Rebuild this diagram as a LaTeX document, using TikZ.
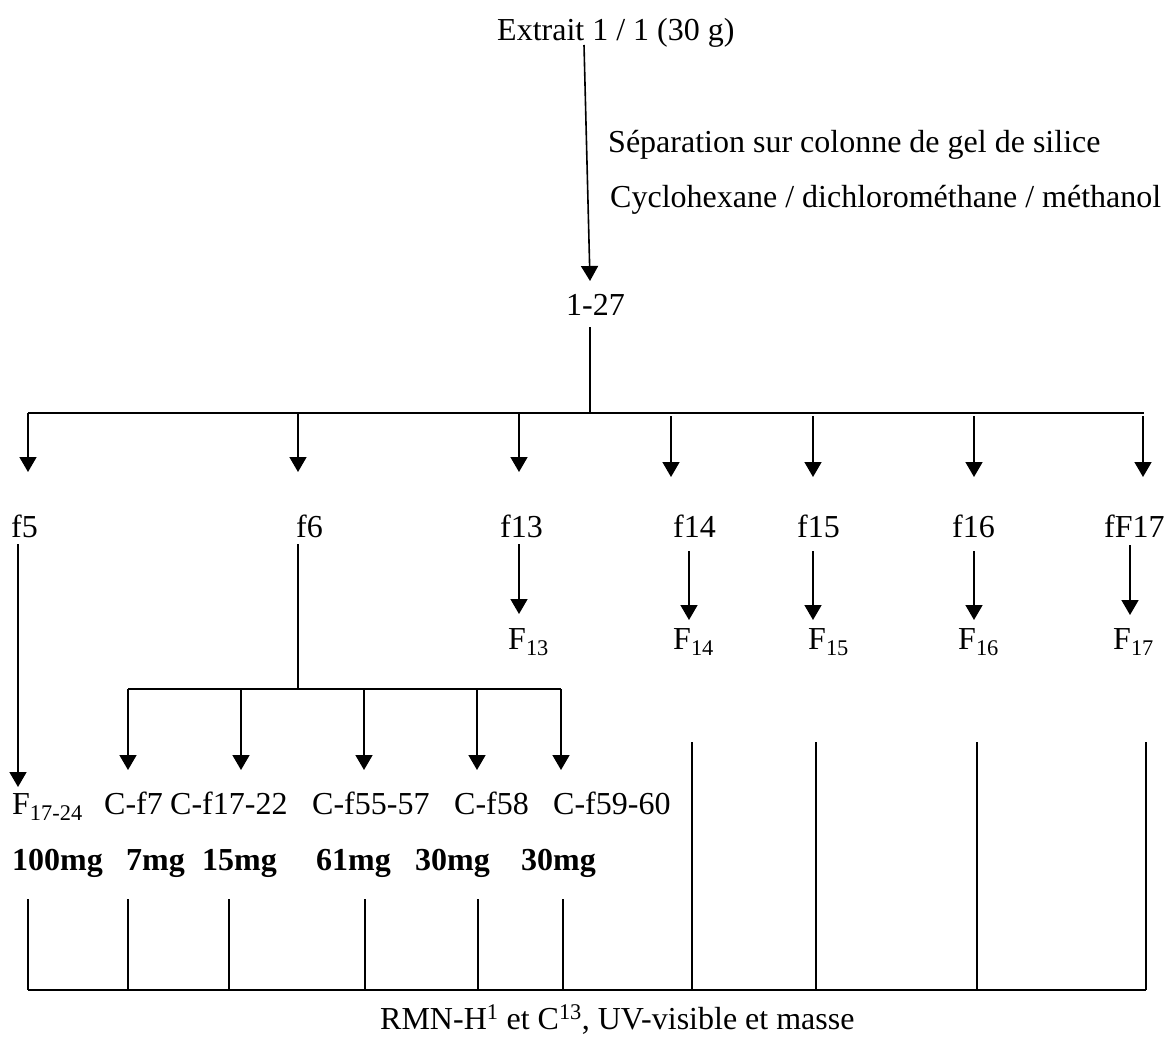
\documentclass[tikz,border=0pt]{standalone}
\usepackage{fontspec}
\setmainfont{Liberation Serif}
\usetikzlibrary{arrows.meta}
\begin{document}
\begin{tikzpicture}[x=1pt,y=-1pt,
  lbl/.style={anchor=base west,inner sep=0pt,font=\fontsize{32}{38}\selectfont},
  blbl/.style={lbl,font=\fontsize{32}{38}\selectfont\bfseries},
  ln/.style={line width=1.6pt},
  thinln/.style={line width=1.2pt},
  arr/.style={-{Triangle[width=17pt,length=15pt]}},
]
\useasboundingbox[fill=white] (0,0) rectangle (1166,1038);

% texts
\node[lbl] (extrait) at (497,41) {Extrait 1 / 1 (30 g)};
\node[lbl] (sep) at (608,152) {Séparation sur colonne de gel de silice};
\node[lbl] (cyc) at (610,207) {Cyclohexane / dichlorométhane / méthanol};
\node[lbl] (n127) at (566,315) {1-27};

\node[lbl] (f5) at (11,537) {f5};
\node[lbl] (f6) at (296,537) {f6};
\node[lbl] (f13) at (500,537) {f13};
\node[lbl] (f14) at (673,537) {f14};
\node[lbl] (f15) at (797,537) {f15};
\node[lbl] (f16) at (952,537) {f16};
\node[lbl] (fF17) at (1104,537) {fF17};

\node[lbl] (F13) at (508,649) {F\textsubscript{13}};
\node[lbl] (F14) at (673,649) {F\textsubscript{14}};
\node[lbl] (F15) at (808,649) {F\textsubscript{15}};
\node[lbl] (F16) at (958,649) {F\textsubscript{16}};
\node[lbl] (F17) at (1113,649) {F\textsubscript{17}};

\node[lbl] (F1724) at (12,814) {F\textsubscript{17-24}};
\node[lbl] (Cf7) at (104,814) {C-f7};
\node[lbl] (Cf1722) at (170,814) {C-f17-22};
\node[lbl] (Cf5557) at (312,814) {C-f55-57};
\node[lbl] (Cf58) at (454,814) {C-f58};
\node[lbl] (Cf5960) at (553,814) {C-f59-60};

\node[blbl] (m100) at (12,870) {100mg};
\node[blbl] (m7) at (126,870) {7mg};
\node[blbl] (m15) at (202,870) {15mg};
\node[blbl] (m61) at (316,870) {61mg};
\node[blbl] (m30a) at (415,870) {30mg};
\node[blbl] (m30b) at (521,870) {30mg};

\node[lbl] (rmn) at (380,1029) {RMN-H\textsuperscript{1} et C\textsuperscript{13}, UV-visible et masse};

% coordinates
\coordinate (e0) at (584,45);
\coordinate (e1) at (590,281);
\coordinate (r0) at (590,327);
\coordinate (r1) at (590,413);
\coordinate (barL) at (28,413);
\coordinate (barR) at (1144,413);

% top arrow
\draw[ln,arr] (e0) -- (e1);
\draw[ln] (r0) -- (r1);
\draw[ln] (barL) -- (barR);

% arrows from first bar
\foreach \x in {28,298,519} \draw[ln,arr] (\x,413) -- (\x,472);
\foreach \x in {671,813,974,1143} \draw[ln,arr] (\x,416) -- (\x,477);

% f5 down
\draw[ln,arr] (18,544) -- (18,787);
% f6 branch
\draw[ln] (298,544) -- (298,689);
\draw[ln] (128,689) -- (561,689);
\foreach \x in {128,241,364,477,561} \draw[ln,arr] (\x,689) -- (\x,770);

% second arrows
\draw[ln,arr] (519,544) -- (519,614);
\draw[ln,arr] (689,551) -- (689,620);
\draw[ln,arr] (813,551) -- (813,620);
\draw[ln,arr] (974,551) -- (974,620);
\draw[ln,arr] (1130,545) -- (1130,615);

% bottom collectors
\foreach \x in {28,128,229,365,478,563} \draw[thinln] (\x,899) -- (\x,990);
\foreach \x in {692,816,977,1146} \draw[thinln] (\x,742) -- (\x,990);
\draw[ln] (28,990) -- (1146,990);
\end{tikzpicture}
\end{document}
